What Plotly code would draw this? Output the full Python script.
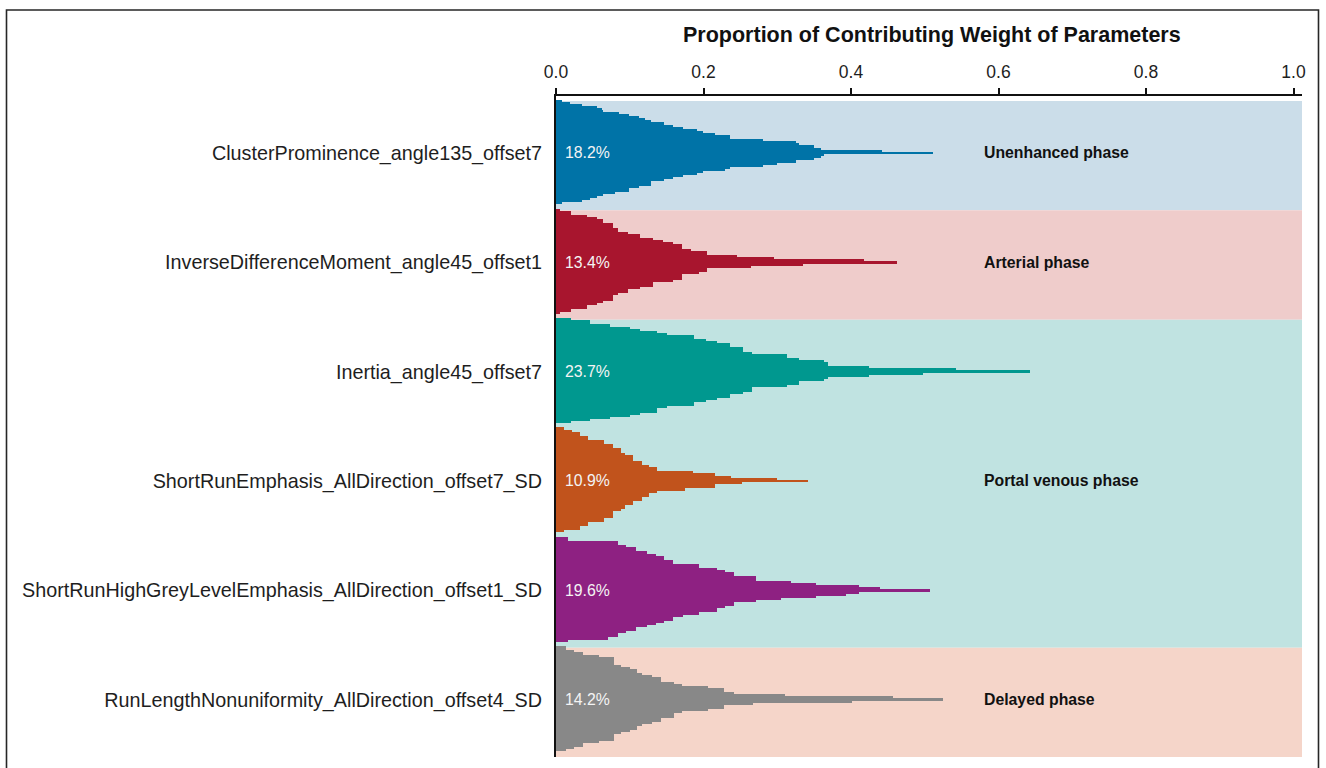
import numpy as np
import plotly.graph_objects as go

# ---------------------------------------------------------------- data
parameters = [
    "ClusterProminence_angle135_offset7",
    "InverseDifferenceMoment_angle45_offset1",
    "Inertia_angle45_offset7",
    "ShortRunEmphasis_AllDirection_offset7_SD",
    "ShortRunHighGreyLevelEmphasis_AllDirection_offset1_SD",
    "RunLengthNonuniformity_AllDirection_offset4_SD",
]

# mean proportion of contributing weight per parameter
mean_weight = [0.182, 0.134, 0.237, 0.109, 0.196, 0.142]

# per-model proportions of contributing weight, largest first
w_cluster_prominence = [
    0.511, 0.442, 0.363, 0.359, 0.359, 0.350, 0.350, 0.330, 0.325, 0.325,
    0.299, 0.280, 0.280, 0.236, 0.236, 0.236, 0.229, 0.216, 0.199, 0.199,
    0.191, 0.191, 0.172, 0.172, 0.159, 0.159, 0.146, 0.146, 0.129, 0.129,
    0.129, 0.121, 0.112, 0.112, 0.099, 0.099, 0.099, 0.085, 0.080, 0.064,
    0.064, 0.062, 0.055, 0.055, 0.046, 0.035, 0.035, 0.019, 0.008, 0.008,
]
w_inverse_difference = [
    0.462, 0.417, 0.335, 0.295, 0.265, 0.245, 0.205, 0.205, 0.205, 0.205,
    0.194, 0.183, 0.171, 0.171, 0.171, 0.171, 0.171, 0.158, 0.158, 0.145,
    0.131, 0.131, 0.131, 0.114, 0.114, 0.114, 0.097, 0.097, 0.097, 0.084,
    0.084, 0.084, 0.077, 0.077, 0.077, 0.077, 0.077, 0.064, 0.064, 0.064,
    0.055, 0.055, 0.042, 0.042, 0.042, 0.020, 0.020, 0.020, 0.005, 0.005,
]
w_inertia = [
    0.643, 0.543, 0.498, 0.424, 0.424, 0.369, 0.369, 0.369, 0.363, 0.363,
    0.329, 0.329, 0.329, 0.313, 0.313, 0.313, 0.266, 0.266, 0.266, 0.254,
    0.254, 0.254, 0.236, 0.236, 0.236, 0.236, 0.218, 0.218, 0.204, 0.204,
    0.187, 0.187, 0.187, 0.187, 0.150, 0.150, 0.137, 0.137, 0.137, 0.114,
    0.114, 0.100, 0.100, 0.073, 0.073, 0.046, 0.046, 0.046, 0.021, 0.021,
]
w_short_run = [
    0.342, 0.300, 0.252, 0.237, 0.215, 0.215, 0.215, 0.186, 0.175, 0.137,
    0.137, 0.137, 0.126, 0.126, 0.126, 0.116, 0.116, 0.116, 0.116, 0.105,
    0.105, 0.105, 0.105, 0.105, 0.094, 0.094, 0.094, 0.088, 0.088, 0.088,
    0.077, 0.077, 0.077, 0.077, 0.077, 0.065, 0.065, 0.065, 0.065, 0.043,
    0.043, 0.043, 0.043, 0.033, 0.033, 0.033, 0.033, 0.022, 0.011, 0.011,
]
w_short_run_high_grey = [
    0.507, 0.439, 0.411, 0.411, 0.393, 0.352, 0.352, 0.319, 0.305, 0.271,
    0.271, 0.271, 0.242, 0.242, 0.242, 0.242, 0.229, 0.229, 0.218, 0.218,
    0.218, 0.194, 0.194, 0.194, 0.172, 0.159, 0.159, 0.159, 0.159, 0.146,
    0.146, 0.146, 0.135, 0.135, 0.124, 0.124, 0.108, 0.108, 0.108, 0.108,
    0.095, 0.095, 0.084, 0.084, 0.084, 0.084, 0.071, 0.016, 0.016, 0.016,
]
w_run_length = [
    0.525, 0.457, 0.402, 0.311, 0.267, 0.241, 0.228, 0.228, 0.228, 0.228,
    0.206, 0.206, 0.171, 0.171, 0.160, 0.160, 0.160, 0.143, 0.143, 0.143,
    0.143, 0.130, 0.130, 0.116, 0.116, 0.110, 0.110, 0.110, 0.110, 0.101,
    0.101, 0.088, 0.088, 0.079, 0.079, 0.079, 0.079, 0.079, 0.079, 0.079,
    0.058, 0.058, 0.036, 0.036, 0.036, 0.025, 0.025, 0.014, 0.014, 0.014,
]
weights = [w_cluster_prominence, w_inverse_difference, w_inertia,
           w_short_run, w_short_run_high_grey, w_run_length]

phases = ["Unenhanced phase", "Arterial phase", "Portal venous phase", "Delayed phase"]
phase_of_parameter = [0, 1, 2, 2, 2, 3]

x_ticks = [0.0, 0.2, 0.4, 0.6, 0.8, 1.0]

# ---------------------------------------------------------------- style
FONT = "Liberation Sans, Arial, Helvetica, sans-serif"
bar_colors = ["#0073a7", "#a8152e", "#00988f", "#c1531c", "#8e2182", "#888888"]
band_colors = ["#cbdde9", "#efcccb", "#c0e3e1", "#f5d5c9"]

ROW_FILL = 0.955          # share of a row taken by the spindle
CENTER_SHIFT = -0.025     # spindle centre relative to its band centre
X_MAX = 1.0115


def spindle_offsets(n):
    """Largest value in the middle, then alternate above / below."""
    out = []
    for r in range(n):
        if r == 0:
            out.append(0)
        elif r % 2:
            out.append(-((r + 1) // 2))
        else:
            out.append(r // 2)
    return np.array(out, dtype=float)


fig = go.Figure()

centers = [i + CENTER_SHIFT for i in range(len(parameters))]

for i, vals in enumerate(weights):
    n = len(vals)
    step = ROW_FILL / n
    ys = centers[i] + spindle_offsets(n) * step
    fig.add_trace(go.Bar(
        x=vals, y=ys, orientation="h", width=step * 1.2,
        marker=dict(color=bar_colors[i], line=dict(width=0)),
        hoverinfo="skip", showlegend=False,
    ))

# phase bands
shapes = []
for p in range(len(phases)):
    rows = [i for i, ph in enumerate(phase_of_parameter) if ph == p]
    shapes.append(dict(
        type="rect", xref="paper", yref="y", x0=0, x1=1,
        y0=min(rows) - 0.5, y1=max(rows) + 0.5,
        fillcolor=band_colors[p], line=dict(width=0), layer="below",
    ))

# outer frame
shapes.append(dict(
    type="rect", xref="paper", yref="paper",
    x0=(6.5 - 556) / 746, x1=(1318.5 - 556) / 746,
    y0=-0.06, y1=(757 - 10) / 661,
    line=dict(color="#262626", width=1.6), fillcolor="rgba(0,0,0,0)",
    layer="above",
))

annotations = []
for i, m in enumerate(mean_weight):
    annotations.append(dict(
        x=0.01, y=centers[i], xref="x", yref="y", xanchor="left",
        yanchor="middle", showarrow=False, text=f"{m * 100:.1f}%",
        font=dict(family=FONT, size=15.8, color="#f4f4f4"),
    ))

for p, name in enumerate(phases):
    rows = [i for i, ph in enumerate(phase_of_parameter) if ph == p]
    yc = float(np.mean([centers[r] for r in rows]))
    annotations.append(dict(
        x=0.578, y=yc, xref="x", yref="y", xanchor="left", yanchor="middle",
        showarrow=False, text=f"<b>{name}</b>",
        font=dict(family=FONT, size=15.8, color="#111111"),
    ))

annotations.append(dict(
    x=0.51, y=1 + (96 - 35) / 661, xref="x", yref="paper",
    xanchor="center", yanchor="middle", showarrow=False,
    text="<b>Proportion of Contributing Weight of Parameters</b>",
    font=dict(family=FONT, size=21.5, color="#111111"),
))

fig.update_layout(
    width=1326, height=768,
    margin=dict(l=556, r=24, t=96, b=11, pad=0),
    paper_bgcolor="white", plot_bgcolor="white",
    barmode="overlay", bargap=0, bargroupgap=0,
    font=dict(family=FONT, color="#1e1e1e"),
    shapes=shapes, annotations=annotations,
    xaxis=dict(
        range=[0, X_MAX], side="top", tickvals=x_ticks,
        ticktext=[f"{t:.1f}" for t in x_ticks],
        ticks="outside", ticklen=6, tickwidth=1.5, tickcolor="#111111",
        showline=True, linewidth=2, linecolor="#111111",
        showgrid=False, zeroline=False, ticklabelstandoff=3,
        tickfont=dict(family=FONT, size=17.5, color="#1e1e1e"),
        fixedrange=True,
    ),
    yaxis=dict(
        range=[5.5, -0.546], tickvals=centers, ticktext=parameters,
        ticks="", showline=True, linewidth=2, linecolor="#111111",
        showgrid=False, zeroline=False, ticklabelstandoff=8,
        tickfont=dict(family=FONT, size=19.75, color="#1e1e1e"),
        fixedrange=True,
    ),
)

fig.write_html("out.html")
